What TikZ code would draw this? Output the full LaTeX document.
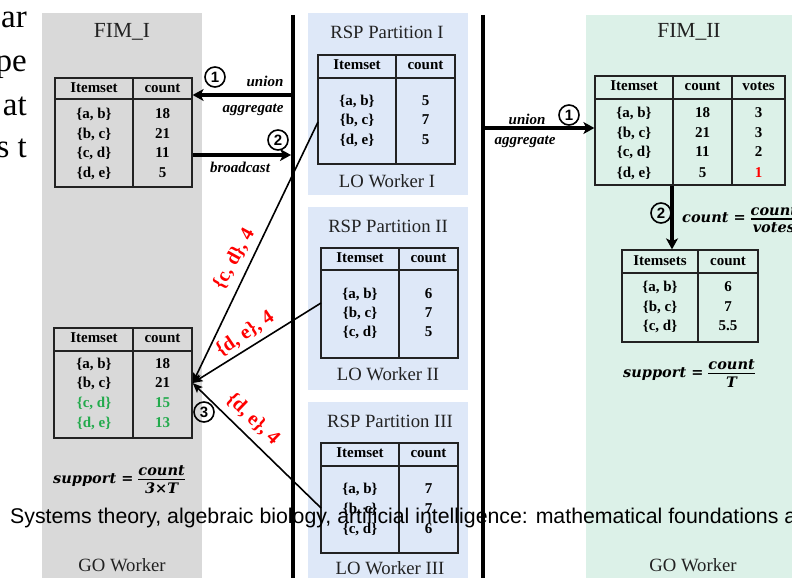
\documentclass[tikz,border=0pt]{standalone}
\usepackage{fontspec}
\setmainfont{Liberation Serif}
\newfontfamily\sansf{Liberation Sans}
\newfontfamily\formf{DejaVu Serif}
\usetikzlibrary{arrows.meta}

\definecolor{gopanel}{RGB}{217,217,217}
\definecolor{lopanel}{RGB}{222,232,248}
\definecolor{fimtwo}{RGB}{220,241,232}
\definecolor{upd}{RGB}{34,170,76}
\definecolor{ink}{RGB}{34,34,34}

% stacked fraction with a solid bar
\newcommand{\stackfrac}[2]{$\vcenter{\halign{\hfil##\hfil\cr #1\cr\noalign{\kern3pt\hrule height 1.3pt\kern3pt}#2\cr}}$}

\tikzset{
  panel/.style={inner sep=0pt, outer sep=0pt},
  tbl/.style={draw=ink, line width=1.3pt, inner sep=0pt},
  tline/.style={draw=ink, line width=1.3pt},
  cell/.style={font=\fontsize{15}{18}\selectfont\bfseries, text height=10pt, text depth=3pt, inner sep=0pt},
  ttl/.style={font=\fontsize{18.7}{22}\selectfont, text=ink},
  bigttl/.style={font=\fontsize{21.5}{24}\selectfont, text=ink},
  lbl/.style={font=\fontsize{15}{18}\selectfont\bfseries\itshape},
  redlbl/.style={font=\fontsize{20}{22}\selectfont\bfseries, text=red, inner sep=0pt},
  numc/.style={circle, draw, line width=1.6pt, minimum size=20pt, inner sep=0pt, font=\sansf\bfseries\fontsize{15}{15}\selectfont},
  fat/.style={line width=4pt, -{Stealth[length=11pt,width=12pt,inset=3pt]}},
  thinarr/.style={line width=1.6pt, -{Stealth[length=10pt,width=8pt,inset=2pt]}},
  vbar/.style={line width=4pt},
  form/.style={font=\formf\bfseries\itshape\fontsize{14.5}{17}\selectfont, inner sep=0pt},
  frag/.style={font=\fontsize{33}{33}\selectfont, inner sep=0pt},
  capt/.style={font=\sansf\fontsize{21.3}{24}\selectfont, inner sep=0pt},
}

\begin{document}
\begin{tikzpicture}[x=1pt,y=-1pt]
\useasboundingbox (0,0) rectangle (792,578);

% text of the page underneath, cut at the left margin
\begin{scope}
\clip (0,0) rectangle (42,578);
\node[frag, anchor=base east] (f1) at (27,28) {ar};
\node[frag, anchor=base east] (f2) at (27,71.5) {pe};
\node[frag, anchor=base east] (f3) at (27,115) {at};
\node[frag, anchor=base east] (f4) at (27,157) {s t};
\end{scope}

% worker panels
\node[panel, fill=gopanel, minimum width=160pt, minimum height=565pt] (go1) at (122,295.5) {};
\node[panel, fill=lopanel, minimum width=160pt, minimum height=182pt] (lo1) at (388,104) {};
\node[panel, fill=lopanel, minimum width=160pt, minimum height=183pt] (lo2) at (388,298.5) {};
\node[panel, fill=lopanel, minimum width=160pt, minimum height=176pt] (lo3) at (388,490) {};
\node[panel, fill=fimtwo, minimum width=206pt, minimum height=563pt] (go2) at (689,296.5) {};

% communication bars
\coordinate (b1t) at (293,15);
\coordinate (b1b) at (293,578);
\coordinate (b2t) at (483,15);
\coordinate (b2b) at (483,578);
\draw[vbar] (b1t) -- (b1b);
\draw[vbar] (b2t) -- (b2b);

% titles
\node[bigttl] (tfim1) at (122,32) {FIM\_I};
\node[ttl] (tgo1) at (122,565) {GO Worker};
\node[ttl] (tp1) at (387,32) {RSP Partition I};
\node[ttl] (tw1) at (387,181) {LO Worker I};
\node[ttl] (tp2) at (388,226) {RSP Partition II};
\node[ttl] (tw2) at (388,374) {LO Worker II};
\node[ttl] (tp3) at (390,421) {RSP Partition III};
\node[ttl] (tw3) at (390,568) {LO Worker III};
\node[bigttl] (tfim2) at (689,32) {FIM\_II};
\node[ttl] (tgo2) at (693,565) {GO Worker};

% ---- table: global counts (FIM_I) ----
\node[tbl, minimum width=137pt, minimum height=109pt] (t1) at (123.5,132.5) {};
\draw[tline] (55,99) -- (192,99);
\draw[tline] (133,78) -- (133,187);
\node[cell] (t1h1) at (94,89) {Itemset};
\node[cell] (t1h2) at (162.5,89) {count};
\node[cell] (t1a) at (94,115) {\{a, b\}};  \node[cell] (t1an) at (162.5,115) {18};
\node[cell] (t1b) at (94,135) {\{b, c\}};  \node[cell] (t1bn) at (162.5,135) {21};
\node[cell] (t1c) at (94,154) {\{c, d\}};  \node[cell] (t1cn) at (162.5,154) {11};
\node[cell] (t1d) at (94,174) {\{d, e\}};  \node[cell] (t1dn) at (162.5,174) {5};

% ---- table: LO worker I ----
\node[tbl, minimum width=137pt, minimum height=109pt] (t2) at (386.5,109.5) {};
\draw[tline] (318,78) -- (455,78);
\draw[tline] (396,55) -- (396,164);
\node[cell] (t2h1) at (357,66) {Itemset};
\node[cell] (t2h2) at (425.5,66) {count};
\node[cell] (t2a) at (357,102) {\{a, b\}};  \node[cell] (t2an) at (425.5,102) {5};
\node[cell] (t2b) at (357,121) {\{b, c\}};  \node[cell] (t2bn) at (425.5,121) {7};
\node[cell] (t2c) at (357,141) {\{d, e\}};  \node[cell] (t2cn) at (425.5,141) {5};

% ---- table: LO worker II ----
\node[tbl, minimum width=137pt, minimum height=110pt] (t3) at (389.5,303) {};
\draw[tline] (321,270) -- (458,270);
\draw[tline] (399,248) -- (399,358);
\node[cell] (t3h1) at (360,259) {Itemset};
\node[cell] (t3h2) at (428.5,259) {count};
\node[cell] (t3a) at (360,295) {\{a, b\}};  \node[cell] (t3an) at (428.5,295) {6};
\node[cell] (t3b) at (360,314) {\{b, c\}};  \node[cell] (t3bn) at (428.5,314) {7};
\node[cell] (t3c) at (360,333) {\{c, d\}};  \node[cell] (t3cn) at (428.5,333) {5};

% ---- table: LO worker III ----
\node[tbl, minimum width=137pt, minimum height=110pt] (t4) at (389.5,498) {};
\draw[tline] (321,466) -- (458,466);
\draw[tline] (399,443) -- (399,553);
\node[cell] (t4h1) at (360,454) {Itemset};
\node[cell] (t4h2) at (428.5,454) {count};
\node[cell] (t4a) at (360,490) {\{a, b\}};  \node[cell] (t4an) at (428.5,490) {7};
\node[cell] (t4b) at (360,510) {\{b, c\}};  \node[cell] (t4bn) at (428.5,510) {7};
\node[cell] (t4c) at (360,530) {\{c, d\}};  \node[cell] (t4cn) at (428.5,530) {6};

% ---- table: updated counts (FIM_I) ----
\node[tbl, minimum width=138pt, minimum height=110pt] (t5) at (123,383) {};
\draw[tline] (54,351) -- (192,351);
\draw[tline] (133,328) -- (133,438);
\node[cell] (t5h1) at (94,339) {Itemset};
\node[cell] (t5h2) at (162.5,339) {count};
\node[cell] (t5a) at (94,365) {\{a, b\}};  \node[cell] (t5an) at (162.5,365) {18};
\node[cell] (t5b) at (94,384) {\{b, c\}};  \node[cell] (t5bn) at (162.5,384) {21};
\node[cell, text=upd] (t5c) at (94,404) {\{c, d\}};  \node[cell, text=upd] (t5cn) at (162.5,404) {15};
\node[cell, text=upd] (t5d) at (94,424) {\{d, e\}};  \node[cell, text=upd] (t5dn) at (162.5,424) {13};

% ---- table: counts and votes (FIM_II) ----
\node[tbl, minimum width=190pt, minimum height=109pt] (t6) at (690,130.5) {};
\draw[tline] (595,99) -- (785,99);
\draw[tline] (673,76) -- (673,185);
\draw[tline] (732,76) -- (732,185);
\node[cell] (t6h1) at (634,87) {Itemset};
\node[cell] (t6h2) at (702.5,87) {count};
\node[cell] (t6h3) at (758.5,87) {votes};
\node[cell] (t6a) at (634,114) {\{a, b\}};  \node[cell] (t6an) at (702.5,114) {18}; \node[cell] (t6av) at (758.5,114) {3};
\node[cell] (t6b) at (634,134) {\{b, c\}};  \node[cell] (t6bn) at (702.5,134) {21}; \node[cell] (t6bv) at (758.5,134) {3};
\node[cell] (t6c) at (634,153) {\{c, d\}};  \node[cell] (t6cn) at (702.5,153) {11}; \node[cell] (t6cv) at (758.5,153) {2};
\node[cell] (t6d) at (634,174) {\{d, e\}};  \node[cell] (t6dn) at (702.5,174) {5};  \node[cell, text=red] (t6dv) at (758.5,174) {1};

% ---- table: averaged counts (FIM_II) ----
\node[tbl, minimum width=136pt, minimum height=92pt] (t7) at (690,296) {};
\draw[tline] (622,273) -- (758,273);
\draw[tline] (698,250) -- (698,342);
\node[cell] (t7h1) at (660,262) {Itemsets};
\node[cell] (t7h2) at (728,262) {count};
\node[cell] (t7a) at (660,288) {\{a, b\}};  \node[cell] (t7an) at (728,288) {6};
\node[cell] (t7b) at (660,308) {\{b, c\}};  \node[cell] (t7bn) at (728,308) {7};
\node[cell] (t7c) at (660,327) {\{c, d\}};  \node[cell] (t7cn) at (728,327) {5.5};

% ---- GO worker I exchanges ----
\coordinate (g1) at (291,95);
\coordinate (g2) at (291,155);
\draw[fat] (g1) -- (g1 -| t1.east);
\draw[fat] (g2 -| t1.east) -- (g2);
\node[numc] (n1) at (215,77) {1};
\node[lbl] (u1) at (265,81) {union};
\node[lbl] (ag1) at (253,110) {aggregate};
\node[numc] (n2) at (278,140) {2};
\node[lbl] (bc) at (240,167) {broadcast};

% ---- local results sent back to GO worker I ----
\coordinate (d1) at (318,122);
\coordinate (d2) at (321,303);
\coordinate (d3) at (321,508);
\draw[thinarr] (d1) -- (t5.east);
\draw[thinarr] (d2) -- (t5.east);
\draw[thinarr] (d3) -- (t5.east);
\node[redlbl, rotate=61] (r1) at (234,259) {\{c, d\}, 4};
\node[redlbl, rotate=34] (r2) at (245,334) {\{d, e\}, 4};
\node[redlbl, rotate=-44] (r3) at (253,419) {\{d, e\}, 4};
\node[numc] (n3) at (204,412) {3};

\node[form] (s1) at (119,480) {support = \stackfrac{count}{3\texttimes T}};

% ---- GO worker II exchanges ----
\coordinate (g3) at (485,128);
\draw[fat] (g3) -- (g3 -| t6.west);
\node[numc] (n4) at (569,115) {1};
\node[lbl] (u2) at (527,119) {union};
\node[lbl] (ag2) at (525,142) {aggregate};

\coordinate (g4) at (672,0);
\draw[fat] (g4 |- t6.south) -- (g4 |- t7.north);
\node[numc] (n5) at (661,213) {2};
\node[form, anchor=west] (c2) at (682,219) {count = \stackfrac{count}{votes}};
\node[form] (s2) at (689,374) {support = \stackfrac{count}{T}};

% running line of the page above
\node[capt, anchor=base west] (cap) at (10,523) {Systems theory, algebraic biology, artificial intelligence: mathematical foundations a};

\end{tikzpicture}
\end{document}
